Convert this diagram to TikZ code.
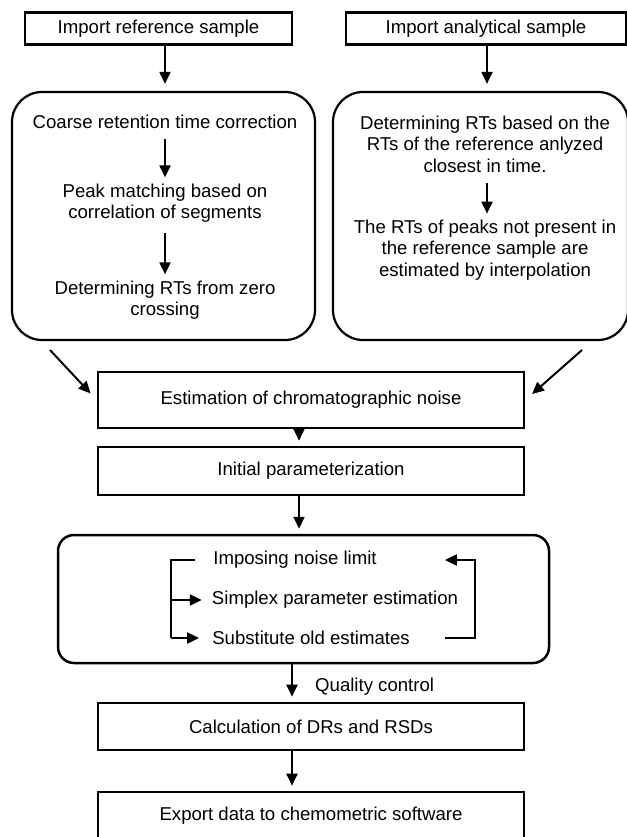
\documentclass[tikz,border=0pt]{standalone}
\usepackage{fontspec}
\setmainfont{Liberation Sans}
\usepackage{tikz}
\usetikzlibrary{calc}
\usetikzlibrary{arrows.meta}
\tikzset{
  box/.style={draw, line width=2.6pt, inner sep=0pt, align=center, font=\fontsize{18.6}{21.5}\selectfont},
  group/.style={draw, line width=2.2pt, inner sep=0pt},
  txt/.style={inner sep=0pt, align=center, font=\fontsize{18.6}{21.5}\selectfont},
  arr/.style={line width=2pt, -{Triangle[length=12pt,width=11pt]}},
  bar/.style={line width=2pt},
}

\begin{document}
\begin{tikzpicture}[x=1pt,y=-1pt]
\useasboundingbox (0,0) rectangle (626,837);
% columns
\coordinate (lcol) at (165,0);
\coordinate (rcol) at (487,0);
\coordinate (mcol) at (299,0);
\coordinate (qcol) at (292,0);
% row1
\node[box, minimum width=267pt, minimum height=32pt] (impref) at (158.5,28.5) {Import reference sample};
\node[box, minimum width=280pt, minimum height=32pt] (impana) at (486,28.5) {Import analytical sample};
% row2
\node[group, rounded corners=30pt, minimum width=303pt, minimum height=248pt] (refgrp) at (163.5,216) {};
\node[group, rounded corners=30pt, minimum width=295pt, minimum height=248pt] (anagrp) at (480.5,216) {};
\node[txt] (coarse) at (165,122) {Coarse retention time correction};
\node[txt] (peakmatch) at (165,203) {Peak matching based on\\correlation of segments};
\node[txt] (zerocross) at (165,300) {Determining RTs from zero\\crossing};
\node[txt] (closest) at (485,144) {Determining RTs based on the\\RTs of the reference anlyzed\\closest in time.};
\node[txt] (interp) at (485,250) {The RTs of peaks not present in\\the reference sample are\\estimated by interpolation};
\draw[arr, shorten >=7pt] (impref.south -| lcol) -- (refgrp.north -| lcol);
\draw[arr, shorten >=7pt] (impana.south -| rcol) -- (anagrp.north -| rcol);
\draw[arr, shorten <=10pt, shorten >=6pt] (coarse.south -| lcol) -- (peakmatch.north -| lcol);
\draw[arr, shorten <=10pt, shorten >=6pt] (peakmatch.south -| lcol) -- (zerocross.north -| lcol);
\draw[arr, shorten <=10pt, shorten >=6pt] (closest.south -| rcol) -- (interp.north -| rcol);
% row3
\node[box, minimum width=426pt, minimum height=56pt] (noise) at (311,400) {Estimation of chromatographic noise};
\coordinate (dleft) at (50,350);
\coordinate (dright) at (582,350);
\draw[arr, shorten >=9pt] (dleft) -- (noise.west);
\draw[arr, shorten >=9pt] (dright) -- (noise.east);
% row4
\node[box, minimum width=426pt, minimum height=48pt] (initpar) at (311,471) {Initial parameterization};
\draw[arr, shorten >=5pt] (noise.south -| mcol) -- (initpar.north -| mcol);
% row5
\node[group, line width=2.5pt, rounded corners=16pt, minimum width=491pt, minimum height=128pt] (loopgrp) at (303.5,599) {};
\node[txt] (imposing) at (295,560) {Imposing noise limit};
\node[txt] (simplex) at (335,600) {Simplex parameter estimation};
\node[txt] (substitute) at (311,638) {Substitute old estimates};
\draw[arr, shorten >=5pt] (initpar.south -| mcol) -- (loopgrp.north -| mcol);
\coordinate (lbar) at (171,0);
\coordinate (rbar) at (475,0);
\draw[bar] ($(imposing.west)+(-18,0)$) -- (imposing.west -| lbar) -- (substitute.west -| lbar);
\draw[arr, shorten >=10pt] (simplex.west -| lbar) -- (simplex.west);
\draw[arr, shorten >=13pt] (substitute.west -| lbar) -- (substitute.west);
\draw[arr, shorten >=68pt] ($(substitute.east)+(35,0)$) -- (substitute.east -| rbar) -- (imposing.east -| rbar) -- (imposing.east);
% row6
\node[box, minimum width=426pt, minimum height=47pt] (calc) at (311,726.5) {Calculation of DRs and RSDs};
\draw[arr, shorten >=5pt] (loopgrp.south -| qcol) -- (calc.north -| qcol);
\node[txt, anchor=west] (qc) at (315,687) {Quality control};
% row7
\node[box, minimum width=426pt, minimum height=48pt] (export) at (311,816) {Export data to chemometric software};
\draw[arr, shorten >=5pt] (calc.south -| qcol) -- (export.north -| qcol);
\end{tikzpicture}
\end{document}
